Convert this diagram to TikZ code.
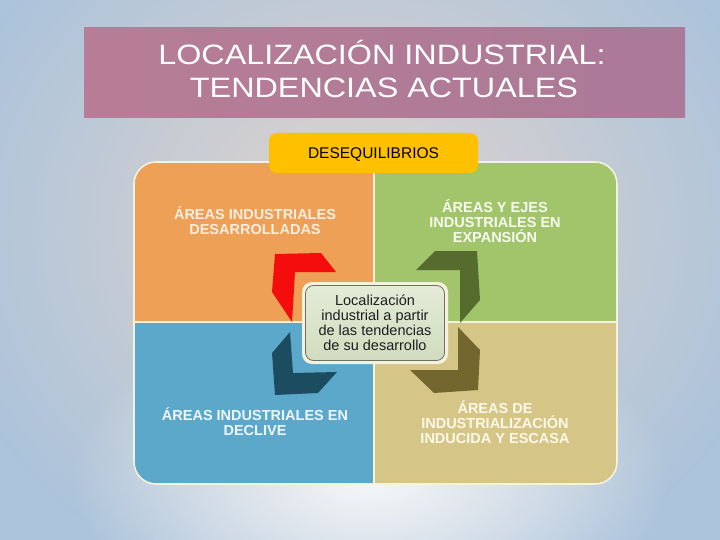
\documentclass[tikz,border=0pt]{standalone}
\usepackage{fontspec}
\setmainfont{Liberation Sans}
\usetikzlibrary{fadings}
\tikzfading[name=glowfade, inner color=transparent!0, outer color=transparent!100]
\definecolor{bgblue}{RGB}{172,196,220}
\definecolor{bgbeige}{RGB}{226,212,204}
\definecolor{titleL}{RGB}{184,125,150}
\definecolor{titleR}{RGB}{170,122,152}
\definecolor{qorange}{RGB}{237,160,86}
\definecolor{qgreen}{RGB}{162,197,108}
\definecolor{qblue}{RGB}{92,168,202}
\definecolor{qtan}{RGB}{213,198,136}
\definecolor{rimcol}{RGB}{242,242,222}
\definecolor{tagcol}{RGB}{255,192,0}
\definecolor{boxtop}{RGB}{228,235,216}
\definecolor{boxbot}{RGB}{208,220,190}
\definecolor{arrred}{RGB}{245,12,12}
\definecolor{arrgreen}{RGB}{86,107,46}
\definecolor{arrblue}{RGB}{27,76,96}
\definecolor{arrtan}{RGB}{115,102,47}
\definecolor{txorange}{RGB}{253,238,224}
\definecolor{txgreen}{RGB}{246,250,238}
\definecolor{txblue}{RGB}{238,246,250}
\definecolor{txtan}{RGB}{252,248,232}
\tikzset{
  titletext/.style={anchor=base, inner sep=0, text=white, font=\fontsize{28}{33}\selectfont},
  qtext/.style={anchor=base, inner sep=0, font=\bfseries\fontsize{14.5}{15}\selectfont},
  ctext/.style={anchor=base, inner sep=0, text={rgb,255:red,30;green,30;blue,30}, font=\fontsize{14.5}{15}\selectfont},
  tagbox/.style={fill=tagcol, rounded corners=8, draw=none},
}
\begin{document}
\begin{tikzpicture}[x=1pt,y=-1pt,line join=round]
\useasboundingbox (0,0) rectangle (720,540);
% background
\fill[bgblue] (0,0) rectangle (720,540);
\fill[bgbeige, path fading=glowfade] (360,230) ellipse (430 and 380);
\fill[white, path fading=glowfade, opacity=0.85] (370,480) ellipse (300 and 170);
% title
\shade[left color=titleL, right color=titleR] (84,28) rectangle (685,118);
\node[titletext] (t1) at (382,65) {\scalebox{1.155}[1]{LOCALIZACIÓN INDUSTRIAL:}};
\node[titletext] (t2) at (384,98) {\scalebox{1.155}[1]{TENDENCIAS ACTUALES}};
% quadrants
\begin{scope}
\clip[rounded corners=22] (134,162) rectangle (617,484);
\fill[qorange] (134,162) rectangle (374,322);
\fill[qgreen] (374,162) rectangle (617,322);
\fill[qblue] (134,322) rectangle (374,484);
\fill[qtan] (374,322) rectangle (617,484);
\end{scope}
\draw[rimcol, line width=2] (374,162) -- (374,484);
\draw[rimcol, line width=2] (134,322) -- (617,322);
\draw[rimcol, line width=1.6, rounded corners=22] (134,162) rectangle (617,484);
% tag
\fill[tagbox] (269,133) rectangle (478,173);
\node[anchor=base, inner sep=0, font=\fontsize{15.5}{16}\selectfont] (tag) at (373.5,159) {DESEQUILIBRIOS};
% quadrant texts
\node[qtext, text=txorange] (o1) at (255,220) {ÁREAS INDUSTRIALES};
\node[qtext, text=txorange] (o2) at (255,235) {DESARROLLADAS};
\node[qtext, text=txgreen] (g1) at (495,213) {ÁREAS Y EJES};
\node[qtext, text=txgreen] (g2) at (495,228) {INDUSTRIALES EN};
\node[qtext, text=txgreen] (g3) at (495,243) {EXPANSIÓN};
\node[qtext, text=txblue] (b1) at (255,420) {ÁREAS INDUSTRIALES EN};
\node[qtext, text=txblue] (b2) at (255,435) {DECLIVE};
\node[qtext, text=txtan] (n1) at (495,413) {ÁREAS DE};
\node[qtext, text=txtan] (n2) at (495,428) {INDUSTRIALIZACIÓN};
\node[qtext, text=txtan] (n3) at (495,443) {INDUCIDA Y ESCASA};
% cycle arrows
\fill[arrred] (275,254) -- (321,253) -- (336,272) -- (295,272) -- (292,322) -- (272,292) -- cycle;
\fill[arrgreen] (416,270) -- (435,251) -- (477,251) -- (480,300) -- (460,323) -- (460,270) -- cycle;
\fill[arrblue] (290,332) -- (272,353) -- (275,395) -- (318,393) -- (337,372) -- (293,373) -- cycle;
\fill[arrtan] (458,327) -- (480,350) -- (478,390) -- (434,393) -- (410,370) -- (458,370) -- cycle;
% central box
\fill[rimcol, rounded corners=10] (302,282) rectangle (448,364);
\shade[top color=boxtop, bottom color=boxbot, rounded corners=8, draw={rgb,255:red,110;green,112;blue,100}, line width=0.8] (305.5,285.5) rectangle (444.5,360.5);
\node[ctext] (c1) at (375,305.5) {Localización};
\node[ctext] (c2) at (375,320.5) {industrial a partir};
\node[ctext] (c3) at (375,335.5) {de las tendencias};
\node[ctext] (c4) at (375,350.5) {de su desarrollo};
\end{tikzpicture}
\end{document}
